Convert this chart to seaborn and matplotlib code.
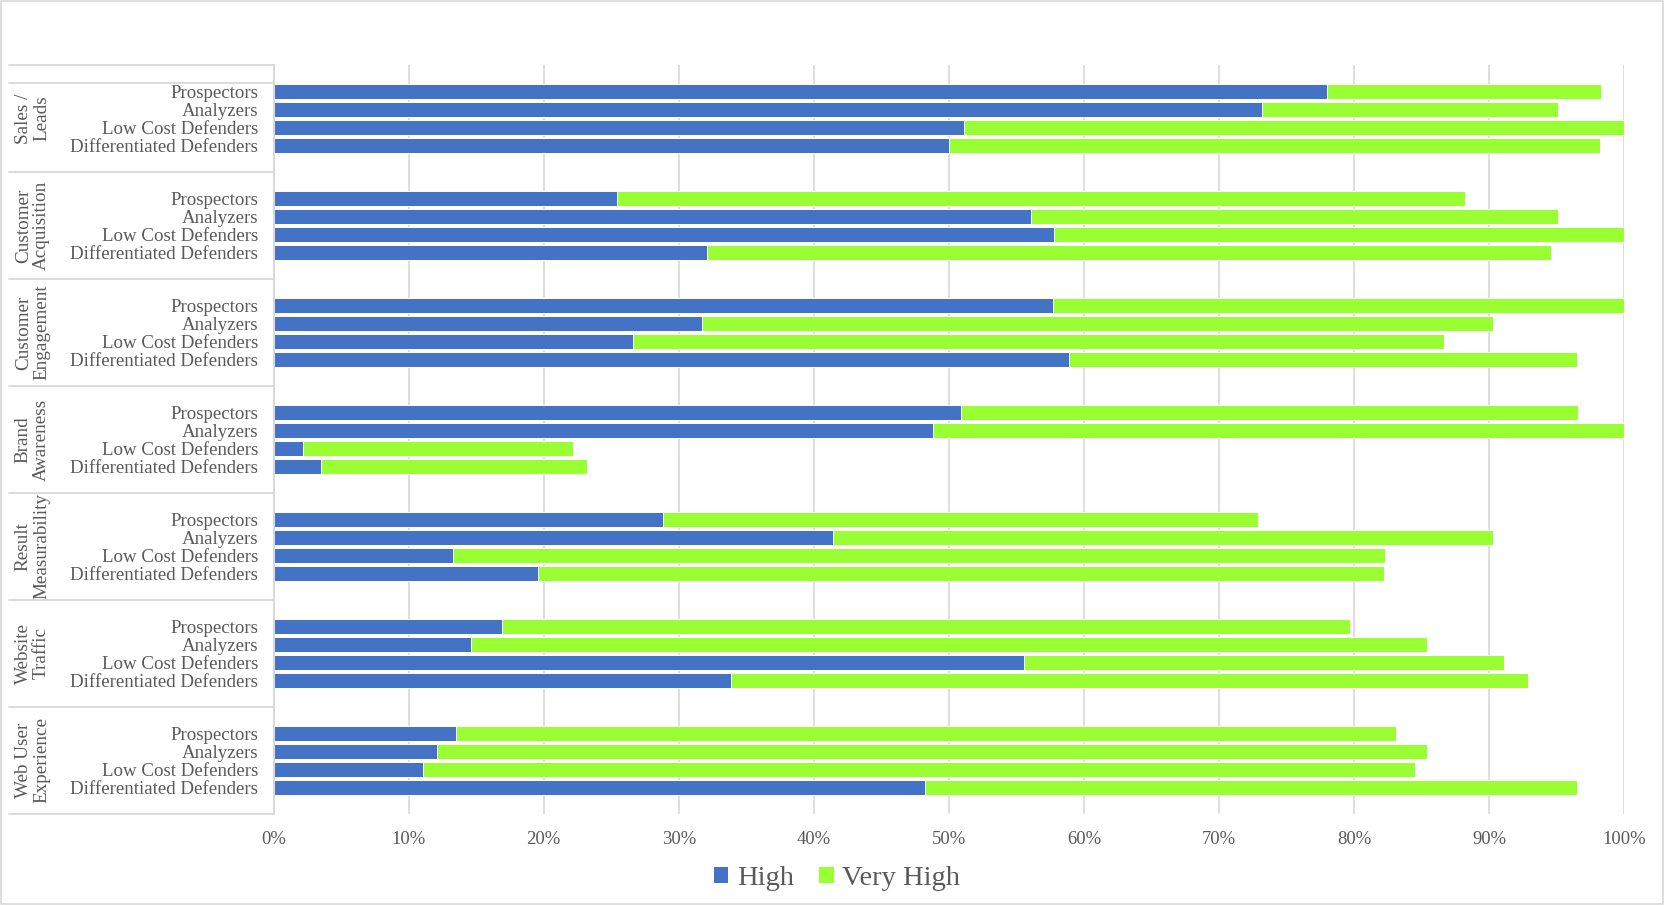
import pandas as pd
import matplotlib
matplotlib.use("Agg")
import matplotlib.pyplot as plt
import matplotlib.transforms as mtransforms
from matplotlib.patches import Patch, Rectangle
from matplotlib.lines import Line2D
import seaborn as sns

# data (percent)
groups = ["Sales /\nLeads", "Customer\nAcquisition", "Customer\nEngagement",
          "Brand\nAwareness", "Result\nMeasurability", "Website\nTraffic",
          "Web User\nExperience"]
segments = ["Prospectors", "Analyzers", "Low Cost Defenders", "Differentiated Defenders"]

high = [
    [78.0, 73.2, 51.1, 50.0],
    [25.4, 56.1, 57.8, 32.1],
    [57.7, 31.7, 26.6, 58.9],
    [50.9, 48.8, 2.2, 3.5],
    [28.8, 41.4, 13.3, 19.6],
    [16.9, 14.6, 55.6, 33.9],
    [13.5, 12.1, 11.1, 48.2],
]
very_high = [
    [20.3, 21.9, 48.9, 48.2],
    [62.8, 39.0, 42.2, 62.5],
    [42.3, 58.6, 60.1, 37.6],
    [45.7, 51.2, 20.0, 19.7],
    [44.1, 48.9, 69.0, 62.6],
    [62.8, 70.8, 35.5, 59.0],
    [69.6, 73.3, 73.4, 48.3],
]

BLUE = "#4472C4"
GREEN = "#99FF33"
TEXT = "#595959"
GRID = "#D9D9D9"

# long table, one row per bar; each group takes 6 slots (gap, 4 bars, gap)
rows = []
for g, grp in enumerate(groups):
    for j, seg in enumerate(segments):
        rows.append({
            "group": grp,
            "segment": seg,
            "pos": g * 6 + 1 + j,
            "High": high[g][j],
            "Total": high[g][j] + very_high[g][j],
        })
df = pd.DataFrame(rows)

sns.set_theme(style="white")
plt.rcParams["font.family"] = ["Liberation Serif", "DejaVu Serif"]

fig = plt.figure(figsize=(16.64, 9.05), dpi=100)
ax = fig.add_axes([0.1644, 0.1006, 0.8116, 0.8276])

sns.barplot(data=df, x="Total", y="pos", orient="y", native_scale=True,
            color=GREEN, saturation=1, width=0.84, errorbar=None,
            edgecolor="white", linewidth=0.7, ax=ax)
sns.barplot(data=df, x="High", y="pos", orient="y", native_scale=True,
            color=BLUE, saturation=1, width=0.84, errorbar=None,
            edgecolor="white", linewidth=0.7, ax=ax)

ax.set_xlim(0, 100)
ax.set_ylim(len(groups) * 6 - 0.5, -0.5)
ax.set_xticks(range(0, 101, 10))
ax.set_xticklabels([f"{v}%" for v in range(0, 101, 10)])
ax.set_yticks(df["pos"])
ax.set_yticklabels(df["segment"])
ax.set_xlabel("")
ax.set_ylabel("")
ax.grid(axis="x", color=GRID, linewidth=1.2)
ax.set_axisbelow(True)
for s in ["top", "right", "bottom"]:
    ax.spines[s].set_visible(False)
ax.spines["left"].set_color(GRID)
ax.spines["left"].set_linewidth(1.5)
ax.tick_params(axis="y", length=0, pad=11, labelsize=13.6, labelcolor=TEXT)
ax.tick_params(axis="x", length=0, pad=12, labelsize=13.4, labelcolor=TEXT)

# group labels and separator lines in the label column
trans = mtransforms.blended_transform_factory(fig.transFigure, ax.transData)
for g, grp in enumerate(groups):
    ax.text(0.0195, g * 6 + 2.5, grp, transform=trans, rotation=90,
            ha="center", va="center", multialignment="center",
            fontsize=13.8, color=TEXT, linespacing=1.1)
seps = [g * 6 - 0.5 for g in range(len(groups) + 1)] + [0.5]
for y in seps:
    ax.add_line(Line2D([0.0055, 0.1644], [y, y], transform=trans,
                       color=GRID, linewidth=1.3, clip_on=False))

# outer chart border
fig.patches.append(Rectangle((0.0005, 0.001), 0.999, 0.998, transform=fig.transFigure,
                             fill=False, edgecolor=GRID, linewidth=1.2))

handles = [Patch(facecolor=BLUE, edgecolor="none", label="High"),
           Patch(facecolor=GREEN, edgecolor="none", label="Very High")]
fig.legend(handles=handles, loc="center", bbox_to_anchor=(0.503, 0.029), ncol=2,
           frameon=False, fontsize=20.5, handlelength=0.5, handleheight=0.5,
           handletextpad=0.3, columnspacing=0.9, labelcolor=TEXT)

fig.savefig("out.png", dpi=100, facecolor="white")
